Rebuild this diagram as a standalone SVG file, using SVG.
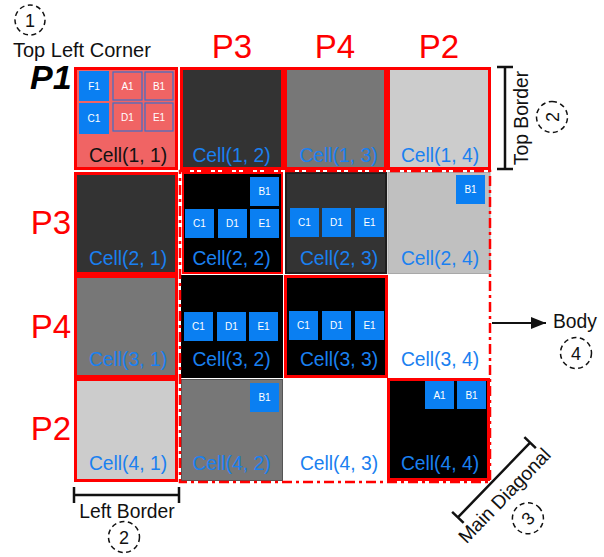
<svg xmlns="http://www.w3.org/2000/svg" width="604" height="557" viewBox="0 0 604 557">
<defs>
<style>
text{font-family:"Liberation Sans",Arial,sans-serif}
.lbl{font-size:19.3px;fill:#1a80f0;text-anchor:middle}
.lbl-dark{font-size:19.3px;fill:#111;text-anchor:middle}
.chip{fill:#0a7ff2}
.chip-s{fill:#f06464;stroke:#3d6fc8;stroke-width:1.2}
.ct{font-size:10px;fill:#fff;text-anchor:middle}
.red{stroke:#ff0000;stroke-width:3}
.plab{font-size:33px;fill:#ff0000;text-anchor:middle}
.ann{font-size:19.3px;fill:#111}
.num{fill:none;stroke:#111;stroke-width:1.5;stroke-dasharray:5,3.5}
.numt{font-size:18px;fill:#111;text-anchor:middle}
.br{stroke:#111;stroke-width:2.5;fill:none}
</style>
<marker id="arr" markerUnits="userSpaceOnUse" markerWidth="16" markerHeight="12" refX="15" refY="6" orient="auto">
<path d="M0,0 L15,6 L0,12 Z" fill="#111"/>
</marker>
</defs>
<rect width="604" height="557" fill="#fff"/>

<!-- Row 1 -->
<g id="cell-1-1">
<rect x="75.5" y="68.5" width="101" height="100" fill="#f06464" class="red"/>
<rect x="79" y="71" width="30" height="30" class="chip"/><text x="94" y="90" class="ct">F1</text>
<rect x="113" y="72" width="29" height="28" class="chip-s"/><text x="127.5" y="90" class="ct">A1</text>
<rect x="145" y="72" width="28" height="28" class="chip-s"/><text x="159" y="90" class="ct">B1</text>
<rect x="79" y="103" width="30" height="31" class="chip"/><text x="94" y="122" class="ct">C1</text>
<rect x="113" y="103" width="29" height="28" class="chip-s"/><text x="127.5" y="121" class="ct">D1</text>
<rect x="145" y="103" width="28" height="28" class="chip-s"/><text x="159" y="121" class="ct">E1</text>
<text x="128" y="162" class="lbl-dark">Cell(1, 1)</text>
</g>
<g id="cell-1-2">
<rect x="181.5" y="68.5" width="101" height="100" fill="#333" class="red"/>
<text x="231.5" y="162" class="lbl">Cell(1, 2)</text>
</g>
<g id="cell-1-3">
<rect x="285.5" y="68.5" width="100" height="100" fill="#777" class="red"/>
<text x="338.5" y="162" class="lbl">Cell(1, 3)</text>
</g>
<g id="cell-1-4">
<rect x="388.5" y="68.5" width="101" height="100" fill="#ccc" class="red"/>
<text x="440" y="162" class="lbl">Cell(1, 4)</text>
</g>

<!-- Row 2 -->
<g id="cell-2-1">
<rect x="75.5" y="173.5" width="101" height="100" fill="#333" class="red"/>
<text x="128" y="265" class="lbl">Cell(2, 1)</text>
</g>
<g id="cell-2-2">
<rect x="183" y="173" width="99" height="100" fill="#000" stroke="#ff0000" stroke-width="2"/>
<rect x="250" y="177" width="29" height="29" class="chip"/><text x="264.5" y="195" class="ct">B1</text>
<rect x="185" y="209" width="29" height="29" class="chip"/><text x="199.5" y="227" class="ct">C1</text>
<rect x="218" y="209" width="29" height="29" class="chip"/><text x="232.5" y="227" class="ct">D1</text>
<rect x="250" y="209" width="29" height="29" class="chip"/><text x="264.5" y="227" class="ct">E1</text>
<text x="231.5" y="265" class="lbl">Cell(2, 2)</text>
</g>
<g id="cell-2-3">
<rect x="286" y="173" width="100" height="100" fill="#333" stroke="#1e1e1e" stroke-width="2"/>
<rect x="290" y="208" width="29" height="29" class="chip"/><text x="304.5" y="226" class="ct">C1</text>
<rect x="322" y="208" width="29" height="29" class="chip"/><text x="336.5" y="226" class="ct">D1</text>
<rect x="355" y="208" width="29" height="29" class="chip"/><text x="369.5" y="226" class="ct">E1</text>
<text x="339" y="265" class="lbl">Cell(2, 3)</text>
</g>
<g id="cell-2-4">
<rect x="388" y="172.5" width="102" height="101" fill="#c0c0c0" stroke="#a8a8a8" stroke-width="1"/>
<rect x="456" y="175" width="29" height="29" class="chip"/><text x="470.5" y="193" class="ct">B1</text>
<text x="440" y="265" class="lbl">Cell(2, 4)</text>
</g>

<!-- Row 3 -->
<g id="cell-3-1">
<rect x="75.5" y="276.5" width="101" height="100" fill="#777" class="red"/>
<text x="128" y="366" class="lbl">Cell(3, 1)</text>
</g>
<g id="cell-3-2">
<rect x="181" y="275" width="102" height="103" fill="#000"/>
<rect x="184" y="312" width="29" height="29" class="chip"/><text x="198.5" y="330" class="ct">C1</text>
<rect x="217" y="312" width="29" height="29" class="chip"/><text x="231.5" y="330" class="ct">D1</text>
<rect x="249" y="312" width="29" height="29" class="chip"/><text x="263.5" y="330" class="ct">E1</text>
<text x="231.5" y="366" class="lbl">Cell(3, 2)</text>
</g>
<g id="cell-3-3">
<rect x="285.5" y="276.5" width="101" height="100" fill="#000" class="red"/>
<rect x="289" y="311" width="29" height="29" class="chip"/><text x="303.5" y="329" class="ct">C1</text>
<rect x="322" y="311" width="29" height="29" class="chip"/><text x="336.5" y="329" class="ct">D1</text>
<rect x="355" y="311" width="29" height="29" class="chip"/><text x="369.5" y="329" class="ct">E1</text>
<text x="339" y="366" class="lbl">Cell(3, 3)</text>
</g>
<g id="cell-3-4">
<rect x="388" y="275" width="102" height="103" fill="#fff"/>
<text x="440" y="366" class="lbl">Cell(3, 4)</text>
</g>

<!-- Row 4 -->
<g id="cell-4-1">
<rect x="75.5" y="379.5" width="101" height="101" fill="#ccc" class="red"/>
<text x="128" y="470" class="lbl">Cell(4, 1)</text>
</g>
<g id="cell-4-2">
<rect x="181.5" y="379.5" width="101" height="101" fill="#777" stroke="#555" stroke-width="1"/>
<rect x="250" y="383" width="29" height="29" class="chip"/><text x="264.5" y="401" class="ct">B1</text>
<text x="231.5" y="470" class="lbl">Cell(4, 2)</text>
</g>
<g id="cell-4-3">
<rect x="283" y="379" width="104" height="102" fill="#fff"/>
<text x="339" y="470" class="lbl">Cell(4, 3)</text>
</g>
<g id="cell-4-4">
<rect x="388.5" y="379.5" width="100" height="100" fill="#000" class="red"/>
<rect x="425" y="381" width="29" height="28" class="chip"/><text x="439.5" y="399" class="ct">A1</text>
<rect x="457" y="381" width="29" height="28" class="chip"/><text x="471.5" y="399" class="ct">B1</text>
<text x="440" y="470" class="lbl">Cell(4, 4)</text>
</g>

<!-- Body region -->
<g id="body-region">
<rect x="180" y="171" width="310" height="311" fill="none" stroke="#ff0000" stroke-width="2.5" stroke-dasharray="10,4,3,4"/>
</g>

<!-- P labels -->
<g id="labels-top">
<text x="232" y="58" class="plab">P3</text>
<text x="335" y="58" class="plab">P4</text>
<text x="439" y="58" class="plab">P2</text>
</g>
<g id="labels-left">
<text x="30" y="89" font-size="34" font-weight="bold" font-style="italic" fill="#000">P1</text>
<text x="51" y="234" class="plab">P3</text>
<text x="51" y="338" class="plab">P4</text>
<text x="51" y="440" class="plab">P2</text>
</g>

<!-- Annotations -->
<g id="ann-top-left-corner">
<circle cx="30" cy="20" r="15" class="num"/>
<text x="30" y="27" class="numt">1</text>
<text x="13" y="57" font-size="20" fill="#111">Top Left Corner</text>
</g>
<g id="ann-top-border">
<path d="M505,67 V169 M497,67 H513 M497,169 H513" class="br"/>
<text transform="translate(528,118) rotate(-90)" text-anchor="middle" class="ann">Top Border</text>
<g transform="translate(552,117) rotate(-90)">
<circle cx="0" cy="0" r="15.5" class="num"/>
<text x="0" y="6.5" class="numt">2</text>
</g>
</g>
<g id="ann-left-border">
<path d="M74,495 H179 M74,487 V503 M179,487 V503" class="br"/>
<text x="127" y="518" text-anchor="middle" class="ann">Left Border</text>
<circle cx="124" cy="537" r="15.5" class="num"/>
<text x="124" y="543.5" class="numt">2</text>
</g>
<g id="ann-body">
<text x="553" y="328" class="ann">Body</text>
<circle cx="576" cy="353" r="15.5" class="num"/>
<text x="576" y="359.5" class="numt">4</text>
</g>
<g id="ann-main-diagonal" transform="translate(494,480) rotate(-46)">
<path d="M-52,0 H52 M-52,-8 V8 M52,-8 V8" class="br"/>
<text x="-4" y="25" text-anchor="middle" class="ann">Main Diagonal</text>
<g transform="translate(-4,51)">
<circle cx="0" cy="0" r="15.5" class="num"/>
<text x="0" y="6.5" class="numt">3</text>
</g>
</g>

<g id="connectors">
<line x1="492" y1="323" x2="546" y2="323" stroke="#111" stroke-width="2" marker-end="url(#arr)"/>
</g>
</svg>
